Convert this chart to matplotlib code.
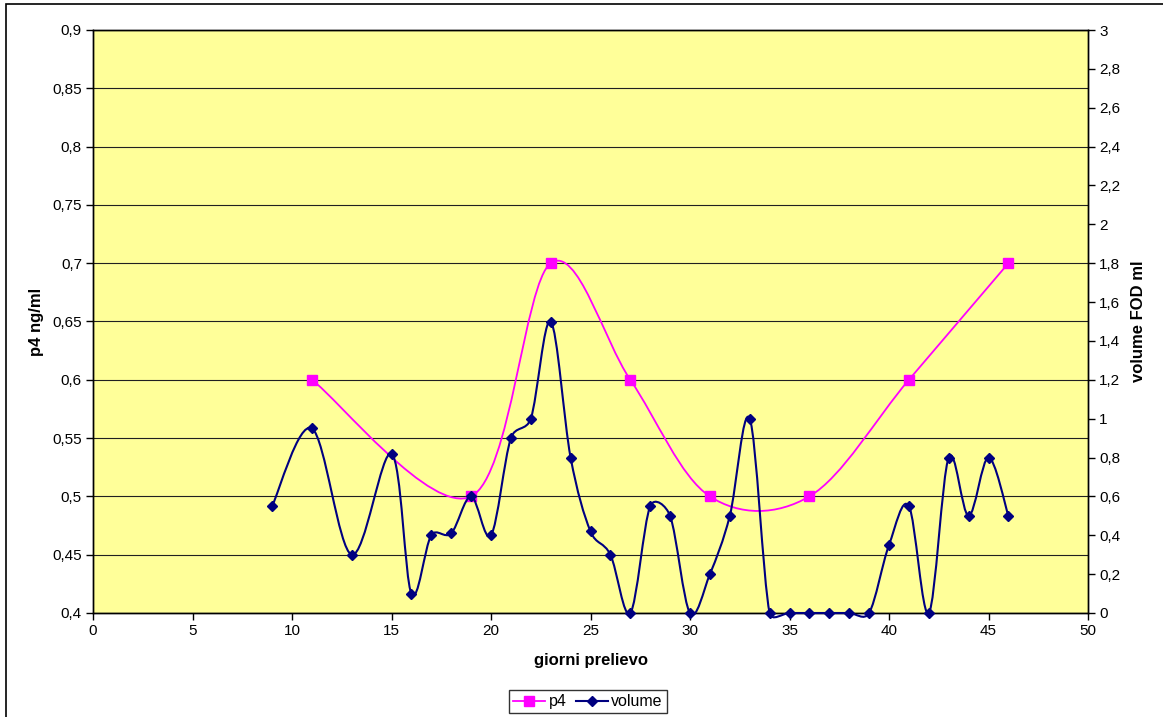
import matplotlib
matplotlib.use('Agg')
import matplotlib.pyplot as plt
import numpy as np
from matplotlib.path import Path
from matplotlib.patches import PathPatch, Rectangle
from matplotlib.lines import Line2D
from matplotlib.ticker import FuncFormatter, MultipleLocator

plt.rcParams['font.family'] = ['Liberation Sans', 'DejaVu Sans']

# data
p4_days = [11, 19, 23, 27, 31, 36, 41, 46]
p4_vals = [0.6, 0.5, 0.7, 0.6, 0.5, 0.5, 0.6, 0.7]

vol_days = [9, 11, 13, 15, 16, 17, 18, 19, 20, 21, 22, 23, 24, 25, 26, 27, 28, 29,
            30, 31, 32, 33, 34, 35, 36, 37, 38, 39, 40, 41, 42, 43, 44, 45, 46]
vol_vals = [0.55, 0.95, 0.3, 0.82, 0.1, 0.4, 0.41, 0.6, 0.4, 0.9, 1.0, 1.5, 0.8, 0.42,
            0.3, 0.0, 0.55, 0.5, 0.0, 0.2, 0.5, 1.0, 0.0, 0.0, 0.0, 0.0, 0.0, 0.0,
            0.35, 0.55, 0.0, 0.8, 0.5, 0.8, 0.5]


def smooth_path(a, x, y):
    # excel-like smoothed line, bezier control points worked out in pixels
    P = a.transData.transform(np.column_stack([x, y]))
    n = len(P)
    verts = [P[0]]
    codes = [Path.MOVETO]
    for i in range(n - 1):
        p0 = P[i - 1] if i > 0 else P[i]
        p1 = P[i]
        p2 = P[i + 1]
        p3 = P[i + 2] if i + 2 < n else P[i + 1]
        d12 = np.hypot(*(p2 - p1))
        d02 = np.hypot(*(p2 - p0))
        d13 = np.hypot(*(p3 - p1))
        f0 = 1 / 6.0
        f1 = 1 / 6.0
        if d02 * f0 > d12 / 2:
            f0 = d12 / 2 / d02
        if d13 * f1 > d12 / 2:
            f1 = d12 / 2 / d13
        c1 = p1 + f0 * (p2 - p0)
        c2 = p2 - f1 * (p3 - p1)
        verts += [c1, c2, p2]
        codes += [Path.CURVE4] * 3
    verts = a.transData.inverted().transform(np.array(verts))
    return Path(verts, codes)


def comma(v, pos):
    return ('%g' % round(v, 3)).replace('.', ',')


fig = plt.figure(figsize=(11.63, 7.17), dpi=100)
ax = fig.add_axes([93 / 1163, 1 - 613 / 717, (1088 - 93) / 1163, (613 - 30) / 717])
ax.set_facecolor('#FFFF99')
ax2 = ax.twinx()

magenta = '#FF00FF'
navy = '#000080'

ax.set_xlim(0, 50)
ax.set_ylim(0.4, 0.9)
ax2.set_ylim(0, 3)

ax.add_patch(PathPatch(smooth_path(ax, p4_days, p4_vals), facecolor='none',
                       edgecolor=magenta, lw=1.3, zorder=3))
ax.plot(p4_days, p4_vals, ls='none', marker='s', ms=6.5, color=magenta, zorder=4)

ax2.add_patch(PathPatch(smooth_path(ax2, vol_days, vol_vals), facecolor='none',
                        edgecolor=navy, lw=1.5, zorder=3, clip_on=False))
ax2.plot(vol_days, vol_vals, ls='none', marker='D', ms=5.5, color=navy, zorder=4,
         clip_on=False)

ax.xaxis.set_major_locator(MultipleLocator(5))
ax.yaxis.set_major_locator(MultipleLocator(0.05))
ax2.yaxis.set_major_locator(MultipleLocator(0.2))
ax.yaxis.set_major_formatter(FuncFormatter(comma))
ax2.yaxis.set_major_formatter(FuncFormatter(comma))

ax.grid(axis='y', color='#202020', lw=0.8)
ax.set_axisbelow(True)

for a in (ax, ax2):
    a.tick_params(direction='out', length=5, width=1, labelsize=11, color='black',
                  pad=3)
    for s in a.spines.values():
        s.set_color('black')
        s.set_linewidth(1)

ax.set_xlabel('giorni prelievo', fontsize=12, fontweight='bold', labelpad=11)
ax.set_ylabel('p4 ng/ml', fontsize=12, fontweight='bold', labelpad=6)
ax2.set_ylabel('volume FOD ml', fontsize=12, fontweight='bold', labelpad=8)

handles = [Line2D([], [], color=magenta, marker='s', ms=6.5, lw=1.3),
           Line2D([], [], color=navy, marker='D', ms=5.5, lw=1.5)]
leg = fig.legend(handles, ['p4', 'volume'], loc='lower center', ncol=2,
                 bbox_to_anchor=(588 / 1163, -0.006), fontsize=11.5, frameon=True,
                 fancybox=False, edgecolor='black', handlelength=2.0,
                 columnspacing=0.6, handletextpad=0.2, borderpad=0.25)
leg.get_frame().set_linewidth(1)

fig.patches.append(Rectangle((6 / 1163, -0.1), 1.2, 1.1 - 4 / 717, transform=fig.transFigure,
                             fill=False, edgecolor='black', lw=1.2))

fig.savefig('out.png', dpi=100)
